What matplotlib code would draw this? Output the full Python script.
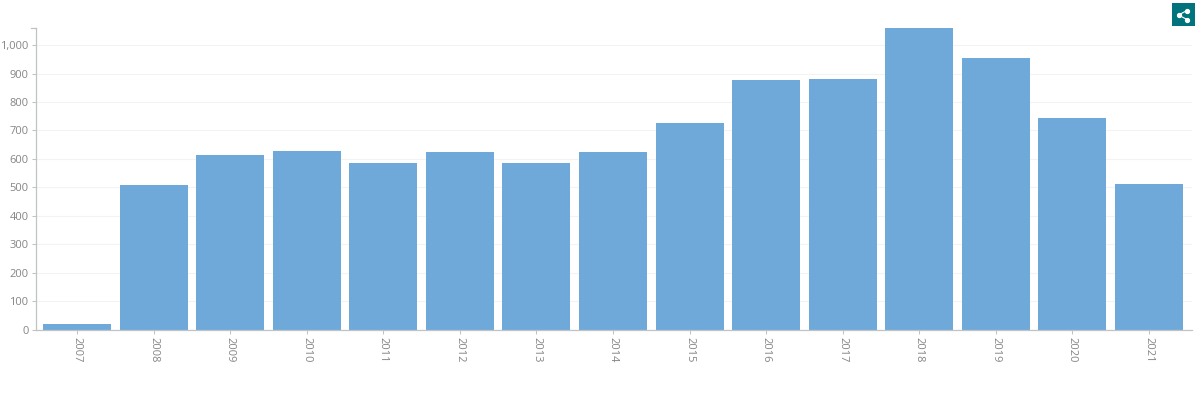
import matplotlib
matplotlib.use('Agg')
import matplotlib.pyplot as plt
from matplotlib.patches import Rectangle
from matplotlib.lines import Line2D

years = ['2007', '2008', '2009', '2010', '2011', '2012', '2013', '2014',
         '2015', '2016', '2017', '2018', '2019', '2020', '2021']
values = [20, 508, 613, 627, 584, 624, 587, 624, 725, 877, 882, 1060, 955, 743, 513]
y_ticks = [0, 100, 200, 300, 400, 500, 600, 700, 800, 900, 1000]

W, H = 1200, 408
plt.rcParams['font.family'] = ['Open Sans', 'DejaVu Sans']

fig = plt.figure(figsize=(W / 100, H / 100), dpi=100)
# 坐标区位置按参考图的像素算
ax = fig.add_axes([35.5 / W, 1 - 329.5 / H, (1192 - 35.5) / W, (329.5 - 28) / H])

ax.bar(range(len(years)), values, width=0.888, color='#6fa9da', zorder=2)

ax.set_xlim(-0.545, 14.565)
ax.set_ylim(0, 1060)
ax.set_yticks(y_ticks)
ax.set_yticklabels([f'{v:,}' for v in y_ticks])
ax.set_xticks(range(len(years)))
ax.set_xticklabels(years, rotation=-90)

ax.grid(axis='y', color='#f3f3f3', linewidth=0.75, zorder=0)
ax.set_axisbelow(True)
for side in ['top', 'right']:
    ax.spines[side].set_visible(False)
for side in ['left', 'bottom']:
    ax.spines[side].set_color('#bfc3c7')
    ax.spines[side].set_linewidth(0.9)
ax.tick_params(axis='y', length=3.2, width=0.75, color='#bfc3c7', labelcolor='#858585',
               labelsize=8, pad=1.8)
ax.tick_params(axis='x', length=3, width=0.75, color='#bfc3c7', labelcolor='#858585',
               labelsize=8, pad=2.5)

# 顶部多出来的一小段刻度
ax.plot([0, -0.0035], [1, 1], transform=ax.transAxes, color='#bfc3c7', lw=0.9, clip_on=False)


# 右上角分享按钮
def px(x, y):
    return x / W, 1 - y / H


fig.add_artist(Rectangle(px(1172, 26), 23 / W, 23 / H, transform=fig.transFigure,
                         facecolor='#00737c', edgecolor='none'))
hub = (1178.5, 15)
tips = [(1187, 10.5), (1187, 19.5)]
for tip in tips:
    xs, ys = zip(px(*hub), px(*tip))
    fig.add_artist(Line2D(xs, ys, transform=fig.transFigure, color='white', lw=0.8))
for x, y in [hub] + tips:
    mx, my = px(x, y)
    fig.add_artist(Line2D([mx], [my], transform=fig.transFigure, marker='o',
                          markersize=2.8, color='white', linestyle='none'))

fig.savefig('out.png', dpi=100)
